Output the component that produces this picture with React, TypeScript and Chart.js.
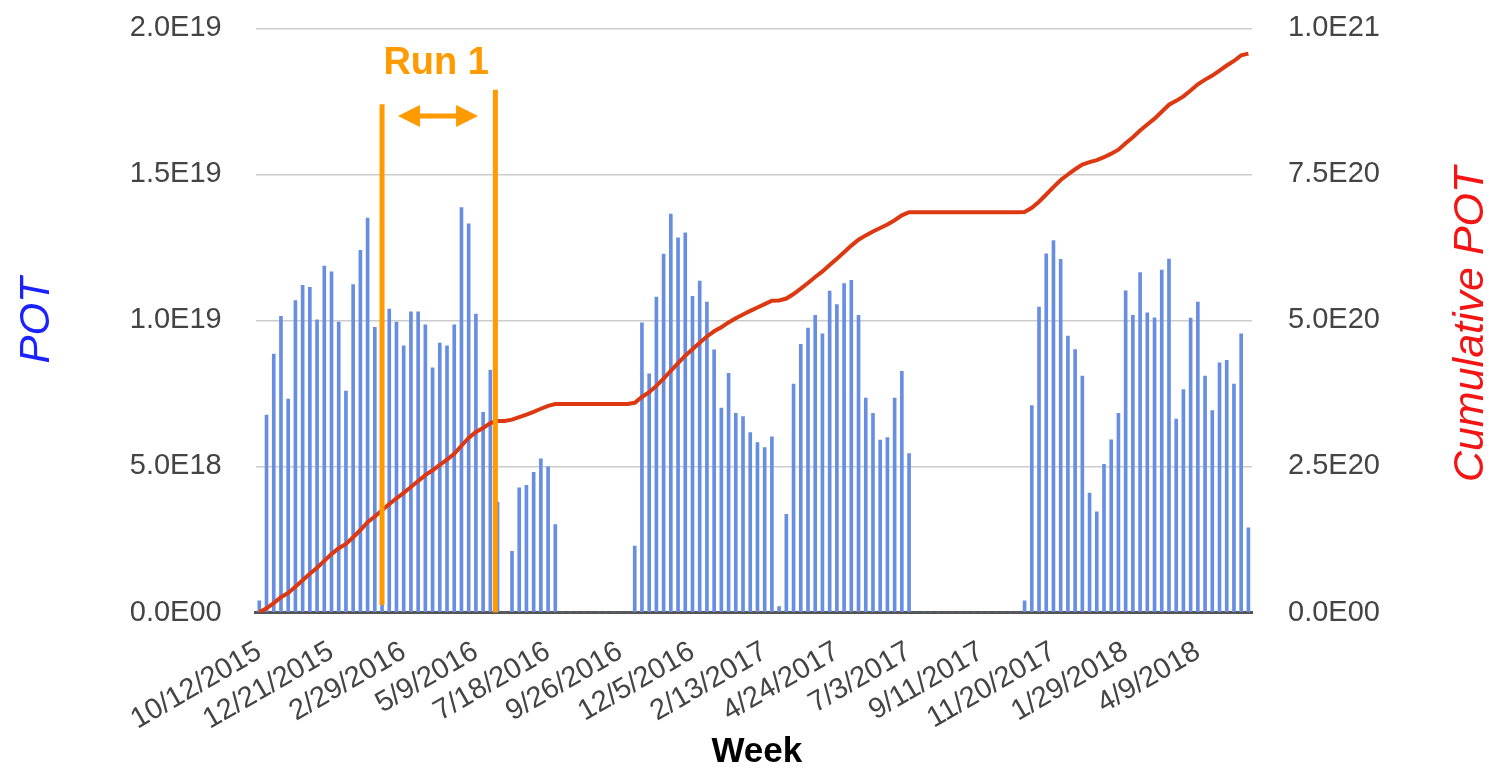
import React, { useEffect, useRef } from "react";
import { Chart, registerables } from "chart.js";

Chart.register(...registerables);

// ---- Data (POT values in units of 1E18, weekly from 10/12/2015) ----
const START_YEAR = 2015;
const START_MONTH = 9; // October (0-based)
const START_DAY = 12;
const WEEK_COUNT = 138;

const TICK_LABELS = [
  "10/12/2015", "12/21/2015", "2/29/2016", "5/9/2016", "7/18/2016", "9/26/2016", "12/5/2016",
  "2/13/2017", "4/24/2017", "7/3/2017", "9/11/2017", "11/20/2017", "1/29/2018", "4/9/2018",
];

const POT_E18 = [
  0.4, 6.76, 8.85, 10.14, 7.31, 10.68, 11.2, 11.13, 10.02, 11.86,
  11.66, 9.94, 7.58, 11.23, 12.4, 13.5, 9.76, 10.77, 10.39, 9.94,
  9.13, 10.29, 10.29, 9.85, 8.38, 9.22, 9.13, 9.85, 13.86, 13.31,
  10.22, 6.85, 8.3, 3.78, 0, 2.09, 4.27, 4.35, 4.8, 5.26,
  4.99, 3.01, 0, 0, 0, 0, 0, 0, 0, 0,
  0, 0, 2.27, 9.92, 8.17, 10.8, 12.27, 13.64, 12.83, 13.0,
  10.82, 11.35, 10.63, 8.99, 7.0, 8.19, 6.82, 6.71, 6.16, 5.82,
  5.65, 6.01, 0.2, 3.36, 7.82, 9.18, 9.74, 10.17, 9.54, 11.0,
  10.54, 11.26, 11.37, 10.17, 7.34, 6.82, 5.9, 5.99, 7.34, 8.26,
  5.44, 0, 0, 0, 0, 0, 0, 0, 0, 0,
  0, 0, 0, 0, 0, 0, 0.4, 7.08, 10.46, 12.28,
  12.73, 12.09, 9.46, 9.0, 8.09, 4.09, 3.45, 5.07, 5.91, 6.82,
  11.01, 10.17, 11.64, 10.26, 10.09, 11.72, 12.1, 6.62, 7.63, 10.08,
  10.63, 8.09, 6.91, 8.55, 8.63, 7.82, 9.54, 2.9,
];

// Cumulative POT, in units of 1E18
const CUM_E18 = [
  0.4, 7.2, 16.0, 26.2, 33.5, 44.1, 55.3, 66.5, 76.5, 88.4,
  100.0, 110.0, 117.5, 128.8, 141.2, 154.7, 164.4, 175.2, 185.6, 195.5,
  204.7, 214.9, 225.2, 235.1, 243.5, 252.7, 261.8, 271.7, 285.5, 298.8,
  309.1, 315.9, 324.2, 328.0, 328.0, 330.1, 334.3, 338.7, 343.5, 348.8,
  353.7, 356.8, 356.8, 356.8, 356.8, 356.8, 356.8, 356.8, 356.8, 356.8,
  356.8, 356.8, 359.0, 368.9, 377.1, 387.9, 400.2, 413.8, 426.7, 439.7,
  450.5, 461.8, 472.5, 481.4, 488.4, 496.6, 503.5, 510.2, 516.3, 522.1,
  527.8, 533.8, 534.0, 537.4, 545.2, 554.4, 564.1, 574.3, 583.8, 594.8,
  605.4, 616.6, 628.0, 638.2, 645.5, 652.3, 658.2, 664.2, 671.5, 679.8,
  685.2, 685.2, 685.2, 685.2, 685.2, 685.2, 685.2, 685.2, 685.2, 685.2,
  685.2, 685.2, 685.2, 685.2, 685.2, 685.2, 685.6, 692.7, 703.2, 715.5,
  728.2, 740.3, 749.7, 758.7, 766.8, 770.9, 774.4, 779.4, 785.4, 792.2,
  803.2, 813.4, 825.0, 835.3, 845.3, 857.1, 869.2, 875.8, 883.4, 893.5,
  904.1, 912.2, 919.1, 927.7, 936.3, 944.1, 953.7, 956.6,
];

const E18 = 1e18;

// Annotation ("Run 1") in data coordinates: week index and POT (1E18)
const RUN_LINES = [
  { idx: 17, from: 0.26, to: 17.4 },
  { idx: 32.7, from: 0, to: 17.9 },
];
const RUN_ARROW = { fromIdx: 19.2, toIdx: 30.3, value: 17.0 };
const RUN_LABEL = { text: "Run 1", idx: 24.5, value: 18.8 };

const FONT = "'Liberation Sans', Arial, Helvetica, sans-serif";
const ORANGE = "#ff9a00";

function weekLabels(): string[] {
  const out: string[] = [];
  for (let i = 0; i < WEEK_COUNT; i++) {
    const d = new Date(START_YEAR, START_MONTH, START_DAY + 7 * i);
    out.push(`${d.getMonth() + 1}/${d.getDate()}/${d.getFullYear()}`);
  }
  return out;
}

function sci(v: number): string {
  if (v === 0) return "0.0E00";
  const e = Math.floor(Math.log10(Math.abs(v)) + 1e-9);
  const m = v / Math.pow(10, e);
  return m.toFixed(1) + "E" + String(e).padStart(2, "0");
}

const annotPlugin = {
  id: "annot",
  afterDraw(chart: any) {
    const { ctx, scales, chartArea } = chart;
    const x = scales.x;
    const y = scales.y;
    ctx.save();

    // Run 1 vertical lines
    ctx.strokeStyle = ORANGE;
    ctx.lineWidth = 5;
    RUN_LINES.forEach((l) => {
      const px = x.getPixelForValue(l.idx);
      ctx.beginPath();
      ctx.moveTo(px, y.getPixelForValue(l.from * E18));
      ctx.lineTo(px, y.getPixelForValue(l.to * E18));
      ctx.stroke();
    });

    // double arrow
    const ax1 = x.getPixelForValue(RUN_ARROW.fromIdx);
    const ax2 = x.getPixelForValue(RUN_ARROW.toIdx);
    const ay = y.getPixelForValue(RUN_ARROW.value * E18);
    const head = 22;
    const half = 11;
    ctx.lineWidth = 5;
    ctx.beginPath();
    ctx.moveTo(ax1 + head - 2, ay);
    ctx.lineTo(ax2 - head + 2, ay);
    ctx.stroke();
    ctx.fillStyle = ORANGE;
    ctx.beginPath();
    ctx.moveTo(ax1, ay);
    ctx.lineTo(ax1 + head, ay - half);
    ctx.lineTo(ax1 + head, ay + half);
    ctx.closePath();
    ctx.fill();
    ctx.beginPath();
    ctx.moveTo(ax2, ay);
    ctx.lineTo(ax2 - head, ay - half);
    ctx.lineTo(ax2 - head, ay + half);
    ctx.closePath();
    ctx.fill();

    // Run 1 label
    ctx.font = `bold 38px ${FONT}`;
    ctx.textAlign = "center";
    ctx.textBaseline = "middle";
    ctx.fillText(RUN_LABEL.text, x.getPixelForValue(RUN_LABEL.idx), y.getPixelForValue(RUN_LABEL.value * E18));

    // axis titles
    const midY = (chartArea.top + chartArea.bottom) / 2;
    ctx.font = `italic 42px ${FONT}`;
    ctx.fillStyle = "#1a22ff";
    ctx.save();
    ctx.translate(37, midY);
    ctx.rotate(-Math.PI / 2);
    ctx.fillText("POT", 0, 0);
    ctx.restore();

    ctx.font = `italic 43px ${FONT}`;
    ctx.fillStyle = "#f41414";
    ctx.save();
    ctx.translate(1471, midY + 4);
    ctx.rotate(-Math.PI / 2);
    ctx.fillText("Cumulative POT", 0, 0);
    ctx.restore();

    ctx.fillStyle = "#000000";
    ctx.font = `bold 35px ${FONT}`;
    ctx.fillText("Week", (chartArea.left + chartArea.right) / 2 + 3, 752);

    ctx.restore();
  },
};

export default function App() {
  const ref = useRef<HTMLCanvasElement | null>(null);

  useEffect(() => {
    if (!ref.current) return;
    const labels = weekLabels();
    const tickSet = new Set(TICK_LABELS);
    const noPad = (s: any) => {
      s.paddingTop = 0;
      s.paddingBottom = 0;
    };
    const chart = new Chart(ref.current, {
      data: {
        labels,
        datasets: [
          {
            type: "line",
            label: "Cumulative POT",
            data: CUM_E18.map((v) => v * E18),
            yAxisID: "y2",
            borderColor: "#dc3912",
            borderWidth: 4,
            pointRadius: 0,
            tension: 0,
            order: 0,
          },
          {
            type: "bar",
            label: "POT",
            data: POT_E18.map((v) => v * E18),
            yAxisID: "y",
            backgroundColor: "rgb(104,142,226)",
            barThickness: 3,
            order: 1,
          },
        ],
      } as any,
      options: {
        responsive: false,
        animation: false,
        layout: { padding: { top: 28.3, left: 0, right: 0, bottom: 0 } },
        plugins: { legend: { display: false }, tooltip: { enabled: false } },
        scales: {
          x: {
            type: "category",
            offset: true,
            grid: { display: false, drawTicks: false },
            border: { display: true, color: "#555555", width: 3 },
            ticks: {
              autoSkip: false,
              minRotation: 30,
              maxRotation: 30,
              padding: 22,
              color: "#444444",
              font: { family: FONT, size: 29 },
              callback: (_v: any, i: number) => (tickSet.has(labels[i]) ? labels[i] : ""),
            },
            afterFit: (s: any) => {
              s.height = 155.5;
            },
          },
          y: {
            position: "left",
            min: 0,
            max: 2e19,
            grid: { color: "#cccccc", lineWidth: 1.5, drawTicks: false },
            border: { display: false },
            ticks: {
              stepSize: 5e18,
              padding: 34,
              color: "#444444",
              font: { family: FONT, size: 29 },
              callback: (v: any) => sci(Number(v)),
            },
            afterFit: (s: any) => {
              s.width = 255.7;
              noPad(s);
            },
          },
          y2: {
            position: "right",
            min: 0,
            max: 1e21,
            grid: { drawOnChartArea: false, drawTicks: false },
            border: { display: false },
            ticks: {
              stepSize: 2.5e20,
              padding: 36,
              color: "#444444",
              font: { family: FONT, size: 29 },
              callback: (v: any) => sci(Number(v)),
            },
            afterFit: (s: any) => {
              s.width = 238;
              noPad(s);
            },
          },
        },
      } as any,
      plugins: [annotPlugin],
    });
    return () => chart.destroy();
  }, []);

  return (
    <div style={{ position: "fixed", left: 0, top: 0, width: 1490, height: 768, background: "#ffffff" }}>
      <canvas ref={ref} width={1490} height={768} style={{ width: 1490, height: 768 }} />
    </div>
  );
}
